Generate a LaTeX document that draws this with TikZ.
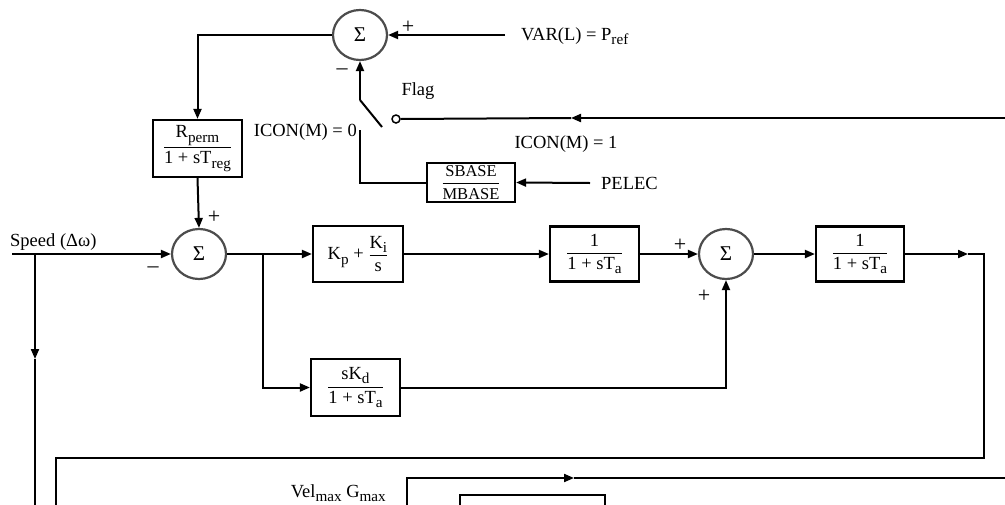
\documentclass[tikz,border=0pt]{standalone}
\usepackage{amsmath}
\usepackage{graphicx}
\usepackage{fontspec}
\setmainfont{Liberation Serif}
\usetikzlibrary{arrows.meta,shapes.geometric}
\newcommand\lsub[1]{\raisebox{-0.5ex}{\scalebox{0.82}{#1}}}
\newcommand\tx[1]{\text{#1}}
\begin{document}
\begin{tikzpicture}[x=1pt,y=-1pt,
  every node/.style={font=\fontsize{18.5}{20}\selectfont},
  ln/.style={line width=2pt},
  arr/.style={line width=2pt,-{Triangle[length=10pt,width=8pt]}},
  blk/.style={draw,line width=2.2pt,inner sep=0pt,font=\fontsize{18.5}{21}\selectfont},
  sumnode/.style={ellipse,draw=black!70,line width=2.2pt,minimum width=54pt,minimum height=50pt,inner sep=0pt,font=\fontsize{21}{22}\selectfont},
  sgn/.style={font=\fontsize{22}{22}\selectfont,inner sep=0pt},
  lbl/.style={inner sep=0pt}]
\useasboundingbox (0,0) rectangle (1005,504);
\clip (0,0) rectangle (1005,504);

% --- nodes ---
\node[sumnode] (sumT) at (360,35) {Σ};
\node[sumnode] (sumM) at (199,254) {Σ};
\node[sumnode] (sumR) at (726,254) {Σ};
\node[blk,minimum width=89pt,minimum height=57pt] (rperm) at (197.5,148.5)
  {$\dfrac{\tx{R\lsub{perm}}}{\tx{1 + sT\lsub{reg}}}$};
\node[blk,minimum width=88pt,minimum height=39pt,font=\fontsize{16.5}{17}\selectfont] (sbase) at (471,182.5)
  {$\dfrac{\tx{SBASE}}{\tx{MBASE}}$};
\node[blk,minimum width=90pt,minimum height=56pt] (kp) at (358,254)
  {$\tx{K\lsub{p} + }\dfrac{\tx{K\lsub{i}}}{\tx{s}}$};
\node[blk,minimum width=89pt,minimum height=57pt] (skd) at (355.5,387.5)
  {$\dfrac{\tx{sK\lsub{d}}}{\tx{1 + sT\lsub{a}}}$};
\node[blk,minimum width=89pt,minimum height=55pt] (ta1) at (594.5,254)
  {$\dfrac{\tx{1}}{\tx{1 + sT\lsub{a}}}$};
\node[blk,minimum width=88pt,minimum height=55pt] (ta2) at (860,254)
  {$\dfrac{\tx{1}}{\tx{1 + sT\lsub{a}}}$};
\node[blk,minimum width=145pt,minimum height=45pt] (lower) at (532.5,517.5) {};
\node[circle,draw,line width=1.5pt,fill=white,minimum size=8pt,inner sep=0pt] (flagpt) at (396,119) {};

% --- coordinates ---
\coordinate (varin) at (505,35);
\coordinate (swbase) at (360,100);
\coordinate (swend) at (382,127);
\coordinate (flagin) at (1006,118);
\coordinate (flagarr) at (571,118);
\coordinate (sw0) at (360,130);
\coordinate (pelec) at (590,183);
\coordinate (spdin) at (12,254);
\coordinate (spdj) at (35,254);
\coordinate (spdarr) at (35,359);
\coordinate (spdend) at (35,510);
\coordinate (br) at (263,254);
\coordinate (outarr) at (968,254);
\coordinate (outc) at (984,254);
\coordinate (retend) at (56,510);
\coordinate (lowst) at (407,510);
\coordinate (lowarr) at (574,478);
\coordinate (lowend) at (1006,478);

% --- connectors ---
\draw[arr] (sumT.west) -| (rperm.north);
\draw[arr] (varin) -- (sumT.east);
\draw[arr] (swbase) -- (sumT.south);
\draw[ln] (swbase) -- (swend);
\draw[arr] (flagin) -- (flagarr);
\draw[ln] (flagarr) -- (flagpt.east);
\draw[ln] (sw0) |- (sbase.west);
\draw[arr] (pelec) -- (sbase.east);
\draw[arr] (rperm.south) -- (sumM.north);
\draw[arr] (spdin) -- (sumM.west);
\draw[arr] (spdj) -- (spdarr);
\draw[ln] (spdarr) -- (spdend);
\draw[ln] (sumM.east) -- (br);
\draw[arr] (br) -- (kp.west);
\draw[arr] (br) |- (skd.west);
\draw[arr] (kp.east) -- (ta1.west);
\draw[arr] (ta1.east) -- (sumR.west);
\draw[arr] (skd.east) -| (sumR.south);
\draw[arr] (sumR.east) -- (ta2.west);
\draw[arr] (ta2.east) -- (outarr);
\draw[ln] (outarr) -- (outc) -- (984,458) -- (56,458) -- (retend);
\draw[arr] (lowst) |- (lowarr);
\draw[ln] (lowarr) -- (lowend);

% --- labels ---
\node[lbl,anchor=base west] (varlbl) at (521,40) {VAR(L) = P\lsub{ref}};
\node[sgn] (pT) at (408,27) {+};
\node[sgn] (mT) at (342,72) {–};
\node[lbl] (flaglbl) at (418,91) {Flag};
\node[lbl,anchor=base] (icon1) at (566,148) {ICON(M) = 1};
\node[lbl,anchor=base east] (icon0) at (357,136) {ICON(M) = 0};
\node[lbl,anchor=base west] (pelbl) at (601,189) {PELEC};
\node[sgn] (pM) at (214,217) {+};
\node[sgn] (mM) at (153,270) {–};
\node[lbl,anchor=base west] (spdlbl) at (10,246) {Speed (Δω)};
\node[sgn] (pR1) at (680,245) {+};
\node[sgn] (pR2) at (704,296) {+};
\node[lbl,anchor=base east] (vellbl) at (386,497) {Vel\lsub{max} G\lsub{max}};
\end{tikzpicture}
\end{document}
